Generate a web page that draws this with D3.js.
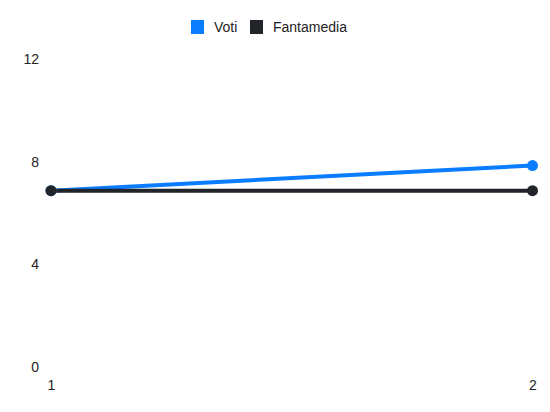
<!DOCTYPE html>
<html>
<head>
<meta charset="utf-8">
<script src="https://cdn.jsdelivr.net/npm/d3@7"></script>
<style>
  body { margin: 0; background: #fff; }
  text { font-family: "Liberation Sans", Arial, sans-serif; }
</style>
</head>
<body>
<div class="chart"></div>
<script>
const giornate = [1, 2];
const voti = [6.87, 7.85];
const fantamedia = [6.87, 6.87];
const yTicks = [0, 4, 8, 12];

const width = 550;
const height = 412;

const svg = d3
  .select(".chart")
  .append("svg")
  .attr("width", width)
  .attr("height", height);

const x = d3.scaleLinear().domain([1, 2]).range([51, 532.5]);
const y = d3.scaleLinear().domain([0, 12]).range([367, 59]);

const series = [
  { name: "Voti", values: voti, color: "#0A7CFF" },
  { name: "Fantamedia", values: fantamedia, color: "#212529" }
];

// y labels, no axis line
const yAxis = d3.axisLeft(y).tickValues(yTicks).tickSize(0).tickPadding(0);
svg.append("g")
  .attr("transform", "translate(39,0)")
  .call(yAxis)
  .attr("font-family", null)
  .attr("font-size", null)
  .call((g) => g.select(".domain").remove())
  .selectAll("text")
  .attr("font-size", 14)
  .attr("fill", "#222");

const xAxis = d3.axisBottom(x).tickValues(giornate).tickFormat(d3.format("d")).tickSize(0).tickPadding(0);
svg.append("g")
  .attr("transform", "translate(0,380)")
  .call(xAxis)
  .attr("font-family", null)
  .attr("font-size", null)
  .call((g) => g.select(".domain").remove())
  .selectAll("text")
  .attr("font-size", 14)
  .attr("fill", "#222");

const line = d3.line()
  .x((d, i) => x(giornate[i]))
  .y((d) => y(d));

series.forEach((s) => {
  svg.append("path")
    .datum(s.values)
    .attr("d", line)
    .attr("fill", "none")
    .attr("stroke", s.color)
    .attr("stroke-width", 4);
});

series.forEach((s) => {
  svg.selectAll("circle." + s.name)
    .data(s.values)
    .enter()
    .append("circle")
    .attr("class", s.name)
    .attr("cx", (d, i) => x(giornate[i]))
    .attr("cy", (d) => y(d))
    .attr("r", 5.5)
    .attr("fill", s.color);
});

// legend
const legend = svg.append("g");
const legendX = [191, 250];
series.forEach((s, i) => {
  legend.append("rect")
    .attr("x", legendX[i])
    .attr("y", 20)
    .attr("width", 13)
    .attr("height", 14)
    .attr("fill", s.color);
  legend.append("text")
    .attr("x", legendX[i] + 23)
    .attr("y", 27)
    .attr("dy", "0.35em")
    .attr("font-size", 14)
    .attr("fill", "#222")
    .text(s.name);
});
</script>
</body>
</html>
